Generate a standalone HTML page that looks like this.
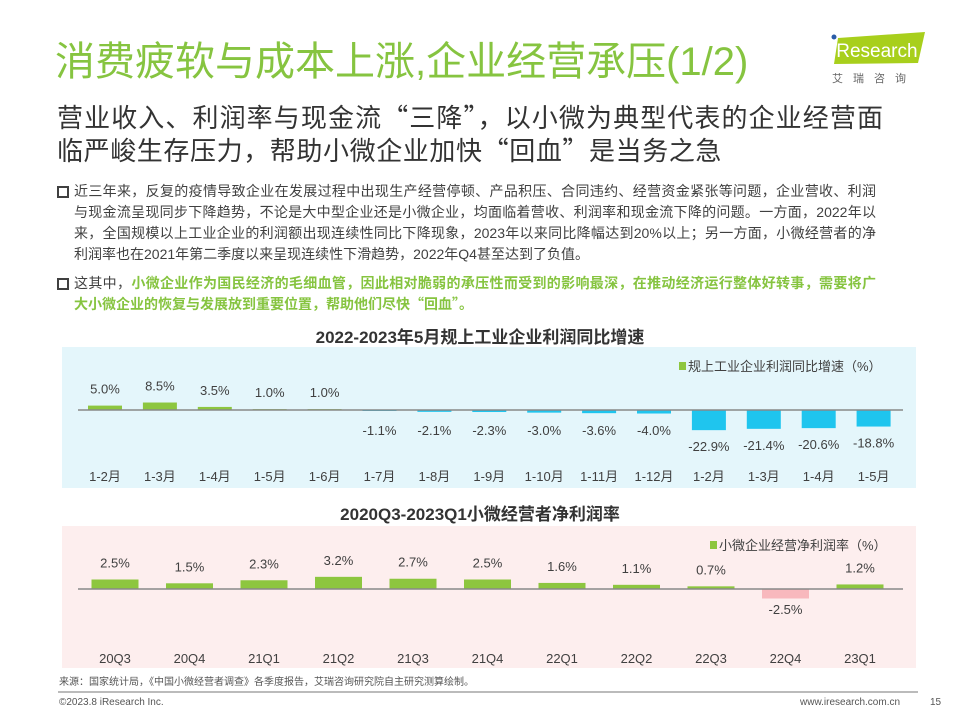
<!DOCTYPE html>
<html><head><meta charset="utf-8">
<style>
body{margin:0;width:960px;height:720px;background:#fff;font-family:"Liberation Sans","Noto Sans CJK SC",sans-serif;position:relative;overflow:hidden;color:#404040}
.abs{position:absolute}
.jl{text-align:justify;text-align-last:justify;white-space:nowrap}
.p{font-size:14px;line-height:21px;left:74px;width:802px}
.p div{text-align:justify;text-align-last:justify}
.g{color:#86c440;font-weight:bold}
.q{font-family:"Noto Sans CJK SC",sans-serif}
.bul{width:8px;height:8px;border:2px solid #404040;left:57px}
</style></head><body>
<div class="abs" style="left:55px;top:38px;font-size:40px;line-height:48px;color:#86c440;white-space:nowrap">消费疲软与成本上涨,企业经营承压(1/2)</div>
<div class="abs" style="left:828px;top:30px;width:100px;height:56px">
 <svg width="100" height="56"><polygon points="10,8 97,2 90,33 6,34" fill="#a8cf1c"/><circle cx="6" cy="7" r="2.5" fill="#2a5ca8"/><text x="4" y="27" font-size="19" fill="#fff" font-family="Liberation Sans">iResearch</text>
 <text x="4" y="52" font-size="11" fill="#666" font-family="Noto Sans CJK SC" letter-spacing="10">艾瑞咨询</text></svg>
</div>
<div class="abs jl" style="left:57px;top:100px;width:826px;font-size:26px;line-height:34px;color:#333">营业收入、利润率与现金流<span class="q">“</span>三降<span class="q">”</span>，以小微为典型代表的企业经营面</div>
<div class="abs" style="left:57px;top:133px;font-size:26px;line-height:34px;color:#333;white-space:nowrap;letter-spacing:0.6px">临严峻生存压力，帮助小微企业加快<span class="q">“</span>回血<span class="q">”</span>是当务之急</div>

<div class="abs bul" style="top:186px"></div>
<div class="abs p" style="top:181px">
<div>近三年来，反复的疫情导致企业在发展过程中出现生产经营停顿、产品积压、合同违约、经营资金紧张等问题，企业营收、利润</div>
<div>与现金流呈现同步下降趋势，不论是大中型企业还是小微企业，均面临着营收、利润率和现金流下降的问题。一方面，2022年以</div>
<div>来，全国规模以上工业企业的利润额出现连续性同比下降现象，2023年以来同比降幅达到20%以上；另一方面，小微经营者的净</div>
<div style="text-align-last:left">利润率也在2021年第二季度以来呈现连续性下滑趋势，2022年Q4甚至达到了负值。</div>
</div>
<div class="abs bul" style="top:278px"></div>
<div class="abs p" style="top:273px">
<div>这其中，<span class="g">小微企业作为国民经济的毛细血管，因此相对脆弱的承压性而受到的影响最深，在推动经济运行整体好转事，需要将广</span></div>
<div class="g" style="text-align-last:left">大小微企业的恢复与发展放到重要位置，帮助他们尽快<span class="q">“</span>回血<span class="q">”</span>。</div>
</div>

<div class="abs" style="left:0;width:960px;text-align:center;top:323px;font-size:17px;font-weight:bold;color:#333">2022-2023年5月规上工业企业利润同比增速</div>
<svg class="abs" style="left:0;top:0" width="960" height="720" id="svg"></svg>

<div class="abs" style="left:0;width:960px;text-align:center;top:500px;font-size:17px;font-weight:bold;color:#333">2020Q3-2023Q1小微经营者净利润率</div>

<div class="abs" style="left:59px;top:673px;font-size:10px;color:#555">来源：国家统计局，《中国小微经营者调查》各季度报告，艾瑞咨询研究院自主研究测算绘制。</div>
<div class="abs" style="left:58px;top:691px;width:860px;height:2px;background:#bbb"></div>
<div class="abs" style="left:59px;top:697px;font-size:10px;color:#555">©2023.8 iResearch Inc.</div>
<div class="abs" style="left:800px;top:697px;font-size:10px;color:#555">www.iresearch.com.cn</div>
<div class="abs" style="left:930px;top:697px;font-size:10px;color:#555">15</div>

<script>
const cats1=["1-2月","1-3月","1-4月","1-5月","1-6月","1-7月","1-8月","1-9月","1-10月","1-11月","1-12月","1-2月","1-3月","1-4月","1-5月"];
const vals1=[5.0,8.5,3.5,1.0,1.0,-1.1,-2.1,-2.3,-3.0,-3.6,-4.0,-22.9,-21.4,-20.6,-18.8];
const cats2=["20Q3","20Q4","21Q1","21Q2","21Q3","21Q4","22Q1","22Q2","22Q3","22Q4","23Q1"];
const vals2=[2.5,1.5,2.3,3.2,2.7,2.5,1.6,1.1,0.7,-2.5,1.2];
const NS="http://www.w3.org/2000/svg";
const svg=document.getElementById('svg');
function mk(t,a){const e=document.createElementNS(NS,t);for(const k in a)e.setAttribute(k,a[k]);svg.appendChild(e);return e;}
function txt(x,y,s,sz,fill,anchor){const e=mk('text',{x:x,y:y,'font-size':sz,fill:fill,'text-anchor':anchor||'middle','font-family':'Liberation Sans, Noto Sans CJK SC, sans-serif'});e.textContent=s;return e;}
function chart(o){
 const bg=mk('rect',{x:62,y:o.top,width:854,height:o.h,fill:o.bg});
 
 
 const n=o.cats.length;
 const xc=i=>o.x0+i*o.step;
 const ys=v=>o.base-v*o.k;
 for(let i=0;i<n;i++){
  const v=o.vals[i];
  const y=Math.min(ys(v),o.base),h=Math.abs(ys(v)-o.base);
  const b=mk('rect',{x:xc(i)-o.bw/2,y:y,width:o.bw,height:Math.max(h,1),fill:v>=0?'#8dc63f':o.neg});
  
  
  let ly=v>=0?ys(v)-12:(h>10?ys(v)+17:o.base+25);
  if(v<0&&o.name==='chart1')ly=h>10?ys(v)+21:o.base+25;
  const t=txt(xc(i),ly,v.toFixed(1)+'%',13,'#404040');
  
  
  const c=txt(xc(i),o.catY,o.cats[i],13,'#404040');
  
  
 }
 const ax=mk('line',{x1:78,x2:903,y1:o.base,y2:o.base,stroke:'#888','stroke-width':1.5});
 
 
 const lg=mk('rect',{x:o.lx-11,y:o.ly-9,width:7,height:8,fill:'#8dc63f'});
 
 
 const lt=txt(o.lx-2,o.ly,o.legend,13,'#404040','start');
 
 
}
chart({name:'chart1',cats:cats1,vals:vals1,top:347,h:141,bg:'#e4f6fb',x0:105,step:54.9,bw:34,base:410,k:0.88,neg:'#1fc5ee',catY:481,lx:690,ly:371,legend:'规上工业企业利润同比增速（%）'});
chart({name:'chart2',cats:cats2,vals:vals2,top:526,h:142,bg:'#fdeeee',x0:115,step:74.5,bw:47,base:589,k:3.8,neg:'#f8b8bd',catY:663,lx:721,ly:550,legend:'小微企业经营净利润率（%）'});
</script>
</body></html>
